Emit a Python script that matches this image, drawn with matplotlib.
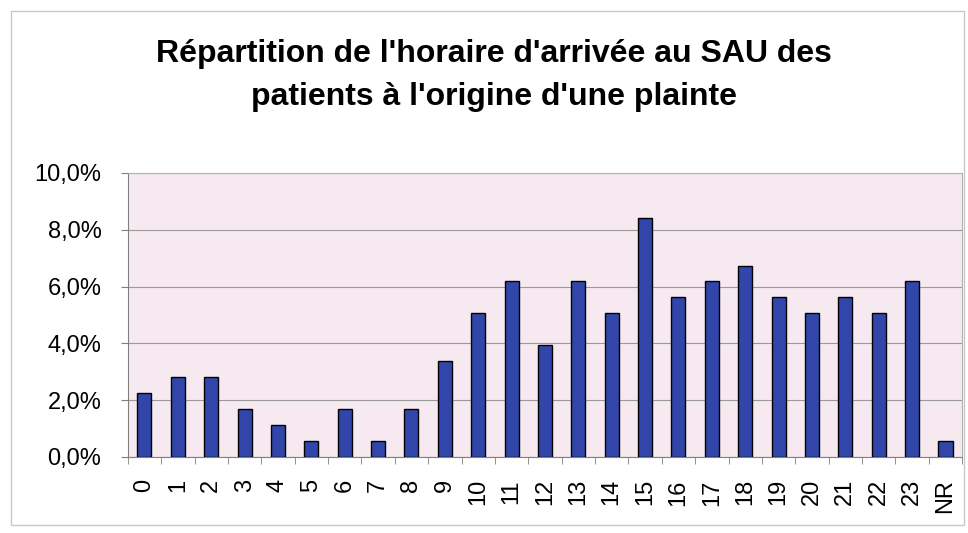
import matplotlib
matplotlib.use("Agg")
import matplotlib.pyplot as plt
from matplotlib.ticker import FuncFormatter, MultipleLocator
from matplotlib.patches import Rectangle

categories = [str(h) for h in range(24)] + ["NR"]
values = [2.25, 2.81, 2.81, 1.69, 1.12, 0.56, 1.69, 0.56, 1.69, 3.37,
          5.06, 6.18, 3.93, 6.18, 5.06, 8.43, 5.62, 6.18, 6.74, 5.62,
          5.06, 5.62, 5.06, 6.18, 0.56]
title = "Répartition de l'horaire d'arrivée au SAU des\npatients à l'origine d'une plainte"

plt.rcParams['font.family'] = ['Liberation Sans', 'DejaVu Sans']

fig = plt.figure(figsize=(9.68, 5.33), dpi=100)
fig.patch.set_facecolor('white')
fig.add_artist(Rectangle((0.011, 0.015), 0.985, 0.965, transform=fig.transFigure,
                         fill=False, edgecolor='#c8c8c8', linewidth=1))

ax = fig.add_axes([0.132, 0.1426, 0.862, 0.533])
ax.set_facecolor('#f6eaf0')
x = range(len(categories))
ax.bar(x, values, width=0.42, color='#3246aa', edgecolor='black', linewidth=1.0, zorder=3)
ax.set_xlim(-0.5, len(categories) - 0.5)
ax.set_ylim(0, 10)
ax.yaxis.set_major_locator(MultipleLocator(2))
ax.yaxis.set_major_formatter(FuncFormatter(lambda v, p: f"{v:.1f}%".replace('.', ',')))
ax.grid(axis='y', color='#9a9a9a', linewidth=0.8, zorder=0)
ax.set_xticks(list(x))
ax.set_xticklabels(categories, rotation=90, fontsize=17)
ax.set_xticks([i - 0.5 for i in range(len(categories) + 1)], minor=True)
ax.tick_params(axis='x', which='major', length=0, pad=16)
ax.tick_params(axis='x', which='minor', length=5, color='#808080')
ax.tick_params(axis='y', labelsize=17, length=5, color='#808080', pad=14)
for s in ['top', 'right']:
    ax.spines[s].set_color('#b0b0b0')
    ax.spines[s].set_linewidth(0.8)
for s in ['left', 'bottom']:
    ax.spines[s].set_color('#808080')
    ax.spines[s].set_linewidth(0.8)

fig.text(0.51, 0.858, title, ha='center', va='center', fontsize=23,
         fontweight='bold', linespacing=1.55)

fig.savefig('out.png', dpi=100)
